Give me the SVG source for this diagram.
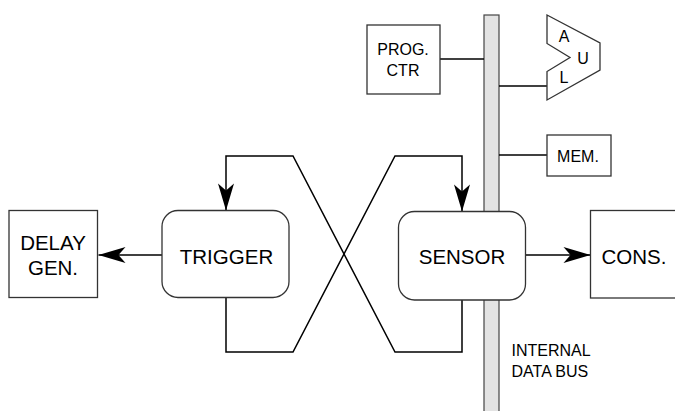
<svg xmlns="http://www.w3.org/2000/svg" width="675" height="411" viewBox="0 0 675 411">
<defs>
<style>
.box{fill:#fff;stroke:#333;stroke-width:1.3}
.bus{fill:#e3e3e3;stroke:#444;stroke-width:1.2}
.wire{fill:none;stroke:#000;stroke-width:1.5}
.t{font-family:"Liberation Sans",Arial,sans-serif;fill:#000;text-anchor:middle}
.big{font-size:20.5px}
.sm{font-size:16px}
.lab{font-family:"Liberation Sans",Arial,sans-serif;fill:#000;font-size:16px}
</style>
<marker id="arr" markerUnits="userSpaceOnUse" markerWidth="30" markerHeight="20" viewBox="-28 -9 30 18" refX="0" refY="0" orient="auto">
<path d="M0,0 L-27,-8 L-20,0 L-27,8 Z" fill="#000"/>
</marker>
</defs>
<g id="bus">
<rect class="bus" x="484" y="15" width="15" height="400"/>
</g>
<g id="connectors">
<line class="wire" x1="440" y1="59" x2="484" y2="59"/>
<line class="wire" x1="499" y1="86" x2="547" y2="86"/>
<line class="wire" x1="499" y1="155" x2="547" y2="155"/>
<path class="wire" d="M462,300 V352 H395 L293,156 H226 V210.5" marker-end="url(#arr)"/>
<path class="wire" d="M226,298 V352 H293 L395,156 H462 V211.5" marker-end="url(#arr)"/>
<line class="wire" x1="162" y1="255" x2="98.5" y2="255" marker-end="url(#arr)"/>
<line class="wire" x1="526" y1="255" x2="590.5" y2="255" marker-end="url(#arr)"/>
</g>
<g id="prog-ctr">
<rect class="box" x="367" y="25" width="73" height="69"/>
<text class="t sm" x="403" y="55">PROG.</text>
<text class="t sm" x="403" y="76">CTR</text>
</g>
<g id="alu">
<path class="box" d="M547,15 L600,43 L600,70 L547,100 L547,71.5 L570,57.5 L547,43.5 Z" stroke-linejoin="miter"/>
<text class="t sm" x="564" y="42">A</text>
<text class="t sm" x="583" y="64">U</text>
<text class="t sm" x="564" y="83">L</text>
</g>
<g id="mem">
<rect class="box" x="547" y="135" width="64" height="41"/>
<text class="t sm" x="578" y="161.5">MEM.</text>
</g>
<g id="delay-gen">
<rect class="box" x="9" y="210.5" width="88.5" height="87"/>
<text class="t big" x="53" y="249.5">DELAY</text>
<text class="t big" x="53" y="275">GEN.</text>
</g>
<g id="trigger">
<rect class="box" x="162" y="210.5" width="127" height="87" rx="16" ry="16"/>
<text class="t big" x="226.5" y="264">TRIGGER</text>
</g>
<g id="sensor">
<rect class="box" x="398.5" y="211.5" width="127" height="88.5" rx="16" ry="16"/>
<text class="t big" x="462" y="264">SENSOR</text>
</g>
<g id="cons">
<rect class="box" x="590.5" y="210.5" width="90" height="87.5"/>
<text class="t big" x="634" y="264">CONS.</text>
</g>
<g id="bus-label">
<text class="lab" x="511.5" y="356">INTERNAL</text>
<text class="lab" x="511.5" y="377">DATA BUS</text>
</g>
</svg>
